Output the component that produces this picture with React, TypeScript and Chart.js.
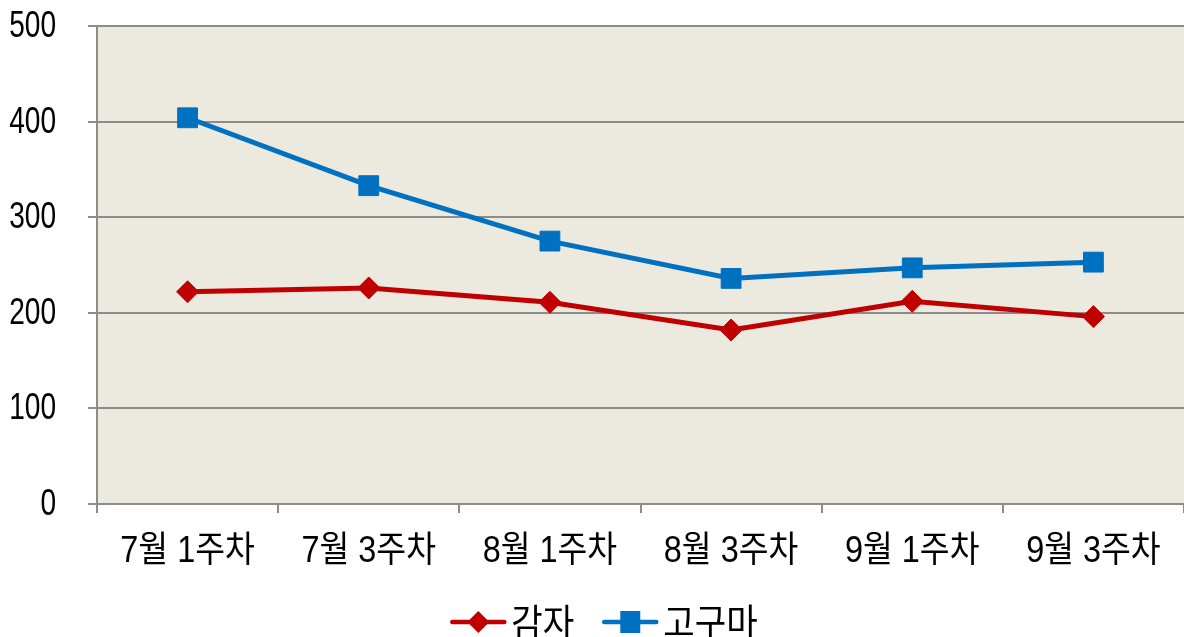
import React, { useEffect, useRef } from 'react';
import { Chart, registerables } from 'chart.js';
Chart.register(...registerables);

const categories = ['7월 1주차', '7월 3주차', '8월 1주차', '8월 3주차', '9월 1주차', '9월 3주차'];
const potatoLabel = '감자';
const sweetLabel = '고구마';
const potato = [222, 226, 211, 182, 212, 196];
const sweetPotato = [404, 333, 275, 236, 247, 253];
const yTickValues = [0, 100, 200, 300, 400, 500];

const RED = '#C00000';
const BLUE = '#0070C0';
const GRID = '#8C8C8C';
const PLOT_BG = '#ECE9DF';
const FONT_FAMILY = "'Liberation Sans', 'Noto Sans CJK KR', sans-serif";
const FONT_SIZE = 36;

// draw text horizontally condensed (the original uses a narrow face)
function drawCondensed(ctx: CanvasRenderingContext2D, text: string, x: number, y: number, align: CanvasTextAlign, k: number, size = FONT_SIZE) {
  ctx.save();
  ctx.translate(x, y);
  ctx.scale(k, 1);
  ctx.font = `${size}px ${FONT_FAMILY}`;
  ctx.fillStyle = '#000';
  ctx.textAlign = align;
  ctx.textBaseline = 'alphabetic';
  ctx.fillText(text, 0, 0);
  ctx.restore();
}

function measureCondensed(ctx: CanvasRenderingContext2D, text: string, k: number, size = FONT_SIZE) {
  ctx.save();
  ctx.font = `${size}px ${FONT_FAMILY}`;
  const w = ctx.measureText(text).width * k;
  ctx.restore();
  return w;
}

const plotBg = {
  id: 'plotBg',
  beforeDraw(chart: any) {
    const { ctx, chartArea } = chart;
    ctx.save();
    ctx.fillStyle = PLOT_BG;
    ctx.fillRect(chartArea.left, chartArea.top, chartArea.right - chartArea.left, chartArea.bottom - chartArea.top);
    ctx.restore();
  },
};

const labelsPlugin = {
  id: 'condensedLabels',
  afterDraw(chart: any) {
    const { ctx } = chart;
    const xs = chart.scales.x;
    const ys = chart.scales.y;
    // y tick labels
    yTickValues.forEach((v) => {
      const py = ys.getPixelForValue(v);
      drawCondensed(ctx, String(v), ys.right - 41, py + 11, 'right', 0.78);
    });
    // x tick labels
    categories.forEach((c, i) => {
      const px = xs.getPixelForTick(i);
      drawCondensed(ctx, c, px, xs.top + 58, 'center', 0.9);
    });
    // legend
    const LK = 0.9;
    const LS = 38;
    const items = chart.data.datasets.map((ds: any, i: number) => ({
      text: ds.label,
      color: ds.borderColor,
      kind: i === 0 ? 'diamond' : 'square',
      tw: measureCondensed(ctx, ds.label, LK, LS),
    }));
    const lineLen = 56;
    const gapText = 5;
    const gapItem = 28;
    const total = items.reduce((s: number, it: any) => s + lineLen + gapText + it.tw, 0) + gapItem * (items.length - 1);
    let x = chart.width / 2 + 12 - total / 2;
    const cy = 622;
    items.forEach((it: any) => {
      ctx.save();
      ctx.strokeStyle = it.color;
      ctx.fillStyle = it.color;
      ctx.lineWidth = 4.5;
      ctx.lineCap = 'round';
      ctx.beginPath();
      ctx.moveTo(x + 2, cy);
      ctx.lineTo(x + lineLen - 2, cy);
      ctx.stroke();
      const mx = x + lineLen / 2;
      ctx.beginPath();
      if (it.kind === 'diamond') {
        ctx.moveTo(mx, cy - 11);
        ctx.lineTo(mx + 11, cy);
        ctx.lineTo(mx, cy + 11);
        ctx.lineTo(mx - 11, cy);
        ctx.closePath();
      } else {
        ctx.rect(mx - 10, cy - 11, 20, 22);
      }
      ctx.fill();
      ctx.restore();
      drawCondensed(ctx, it.text, x + lineLen + gapText, cy + 14, 'left', LK, LS);
      x += lineLen + gapText + it.tw + gapItem;
    });
  },
};

export default function App() {
  const ref = useRef<HTMLCanvasElement>(null);
  useEffect(() => {
    document.body.style.margin = '0';
    const chart = new Chart(ref.current!, {
      type: 'line',
      data: {
        labels: categories,
        datasets: [
          {
            label: potatoLabel,
            data: potato,
            borderColor: RED,
            backgroundColor: RED,
            borderWidth: 5,
            pointStyle: 'rectRot',
            pointRadius: 11,
            pointBorderWidth: 1,
            tension: 0,
          },
          {
            label: sweetLabel,
            data: sweetPotato,
            borderColor: BLUE,
            backgroundColor: BLUE,
            borderWidth: 5,
            pointStyle: 'rect',
            pointRadius: 14,
            pointBorderWidth: 1,
            tension: 0,
          },
        ],
      },
      options: {
        animation: false,
        responsive: false,
        layout: { autoPadding: false, padding: { top: 26, right: 0, left: 0, bottom: 0 } },
        plugins: {
          tooltip: { enabled: false },
          legend: { display: false },
        },
        scales: {
          x: {
            offset: true,
            grid: {
              offset: true,
              drawOnChartArea: false,
              drawTicks: true,
              tickLength: 9,
              color: GRID,
              lineWidth: 2,
            },
            border: { color: GRID, width: 2 },
            ticks: { display: false },
            afterFit: (scale: any) => {
              scale.height = 133;
            },
          },
          y: {
            min: yTickValues[0],
            max: yTickValues[yTickValues.length - 1],
            grid: { color: GRID, lineWidth: 2, tickLength: 9 },
            border: { color: GRID, width: 2 },
            ticks: { stepSize: yTickValues[1] - yTickValues[0], display: false },
            afterFit: (scale: any) => {
              scale.width = 97;
            },
          },
        },
      },
      plugins: [plotBg, labelsPlugin],
    });
    return () => chart.destroy();
  }, []);
  return <canvas ref={ref} width={1184} height={637} style={{ display: 'block' }} />;
}
